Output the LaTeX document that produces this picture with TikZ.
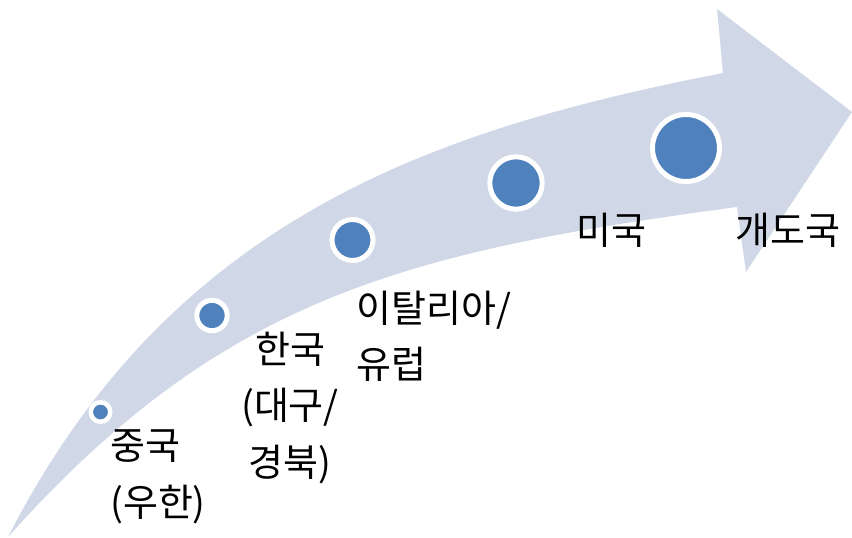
\documentclass[tikz,border=0pt]{standalone}
\usepackage{fontspec}
\setmainfont{Noto Sans CJK KR}
\definecolor{band}{RGB}{208,216,232}
\definecolor{dotblue}{RGB}{79,129,189}
\begin{document}
\begin{tikzpicture}[x=1pt,y=-1pt,
  dot/.style={circle,fill=dotblue,draw=white,inner sep=0pt},
  lbl/.style={inner sep=0pt,font=\fontsize{38}{56.5}\selectfont,text=black}]
\useasboundingbox (0,0) rectangle (852,538);
% curved arrow
\fill[band] (8,537) .. controls (170,220) and (430,130) .. (723,73)
  -- (717,9) -- (852,112) -- (746,272) -- (737,207)
  .. controls (400,252) and (220,300) .. (8,537) -- cycle;
% dots
\node[dot,line width=4.5pt,minimum size=19.5pt] (c1) at (100.5,412) {};
\node[dot,line width=5pt,minimum size=30.4pt] (c2) at (212,315.5) {};
\node[dot,line width=5pt,minimum size=41pt] (c3) at (352.5,240) {};
\node[dot,line width=5pt,minimum size=52.4pt] (c4) at (516,183) {};
\node[dot,line width=5pt,minimum size=67pt] (c5) at (686,148) {};
% labels (base anchor = last line)
\node[lbl,anchor=base west,align=left] (t1) at (110,516) {중국\\(우한)};
\node[lbl,anchor=base,align=center] (t2) at (290,476) {한국\\(대구/\\경북)};
\node[lbl,anchor=base west,align=left] (t3) at (356,378.5) {이탈리아/\\유럽};
\node[lbl,anchor=base west] (t4) at (576,244) {미국};
\node[lbl,anchor=base west] (t5) at (735,244) {개도국};
\end{tikzpicture}
\end{document}
